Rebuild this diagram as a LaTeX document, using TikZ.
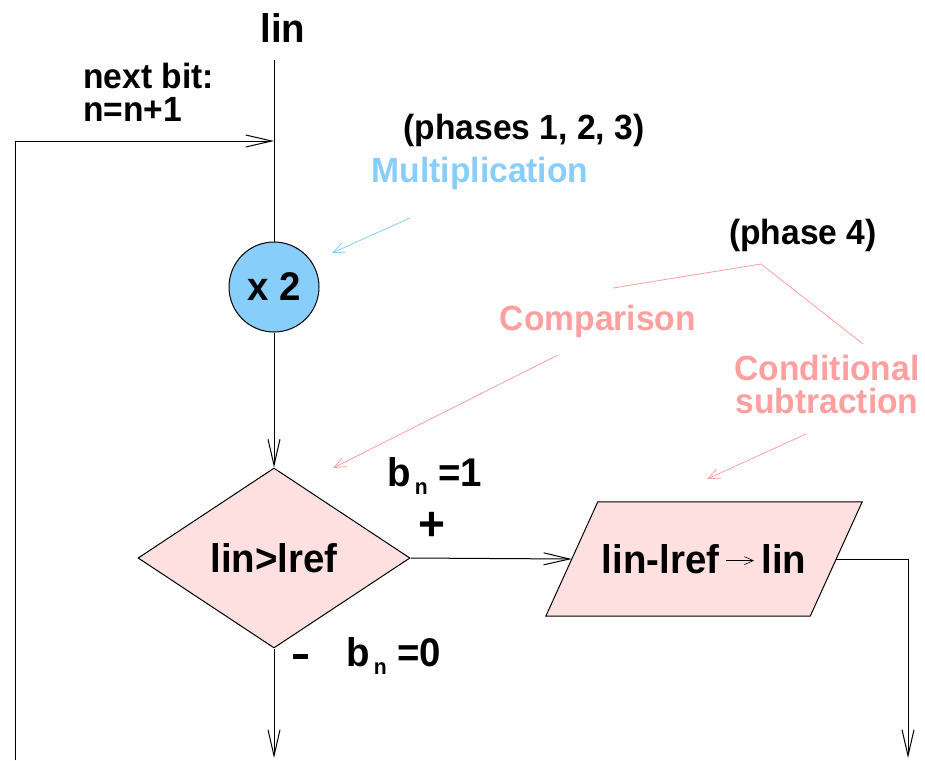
\documentclass[tikz,border=0pt]{standalone}
\usepackage{fontspec}
\usetikzlibrary{arrows.meta,shapes.geometric,backgrounds}
\newfontfamily\figfont{Liberation Sans}[BoldFeatures={FakeStretch=0.96}]
\definecolor{multblue}{HTML}{87CEFA}
\definecolor{phasepink}{HTML}{FFA0A0}
\definecolor{cmpfill}{HTML}{FFE0E0}
\newcommand{\bitlabel}[1]{b\raisebox{-8pt}{\fontsize{22}{22}\selectfont\,n}\ =#1}
\newcommand{\smallarr}{\tikz[baseline=-0.6ex]\draw[line width=0.6pt,-{Straight Barb[length=9pt,width=8pt]}] (0,0) -- (28pt,0);}

\begin{document}
\begin{tikzpicture}[x=1pt,y=-1pt,
  font=\figfont\bfseries,
  wire/.style={line width=1pt},
  flow/.style={line width=1pt, -{Straight Barb[length=26pt,width=12pt]}},
  note/.style={line width=0.8pt, -{Straight Barb[length=12pt,width=10pt]}},
  big/.style={font=\figfont\bfseries\fontsize{40}{44}\selectfont, inner sep=0pt},
  small/.style={font=\figfont\bfseries\fontsize{35}{33}\selectfont, inner sep=0pt, align=center},
  sign/.style={font=\figfont\bfseries\fontsize{48}{48}\selectfont, inner sep=0pt},
  mult/.style={circle, draw, line width=1pt, fill=multblue, minimum size=90pt, inner sep=0pt, big},
  decision/.style={diamond, draw, line width=1pt, fill=cmpfill, minimum width=272pt, minimum height=180pt, inner sep=0pt, big},
  subtr/.style={rectangle, minimum width=264pt, minimum height=114pt, inner sep=0pt, big},
  slantbox/.style={draw, line width=1pt, fill=cmpfill}]
  \useasboundingbox (0,0) rectangle (925,760);

  % main path
  \node[big] (iin) at (283,28) {lin};
  \coordinate (src) at (274,60);
  \node[mult] (x2) at (274,287) {x 2};
  \node[decision] (cmp) at (274,558) {lin>lref};
  \node[subtr] (sub) at (704,559) {lin-lref\,\smallarr\,lin};
  \begin{scope}[on background layer]
    \draw[slantbox] ([xshift=26pt]sub.north west) -- ([xshift=26pt]sub.north east)
      -- ([xshift=-26pt]sub.south east) -- ([xshift=-26pt]sub.south west) -- cycle;
  \end{scope}
  \coordinate (join) at (274,141);
  \coordinate (loopbot) at (15,760);
  \coordinate (outL) at (274,758);
  \coordinate (outR) at (908,758);

  \draw[wire] (src) -- (x2);
  \draw[flow] (loopbot) |- (join);
  \draw[flow] (x2) -- (cmp);
  \draw[flow] (cmp.east) -- (sub.west);
  \draw[flow] (sub.east) -| (outR);
  \draw[flow] (cmp.south) -- (outL);

  % branch labels
  \node[small, anchor=west, align=left] (next) at (83,92) {next bit:\\n=n+1};
  \node[sign] (plus) at (432,526) {+};
  \node[sign] (minus) at (300,656) {\rule{15pt}{5pt}};
  \node[big] (bone) at (435,476) {\bitlabel{1}};
  \node[big] (bzero) at (394,656) {\bitlabel{0}};

  % phase notes
  \node[small] (ph123) at (524,130) {(phases 1, 2, 3)};
  \node[small, text=multblue] (multnote) at (480,173) {Multiplication};
  \node[small] (ph4) at (803,235) {(phase 4)};
  \node[small, text=phasepink] (cmpnote) at (598,321) {Comparison};
  \node[small, text=phasepink] (subnote) at (827,384) {Conditional\\subtraction};

  \coordinate (multtail) at (410,218);
  \coordinate (multtip) at (332,253);
  \coordinate (ph4a) at (613,288);
  \coordinate (ph4b) at (761,264);
  \coordinate (ph4c) at (863,344);
  \coordinate (cmptail) at (558,355);
  \coordinate (cmptip) at (333,468);
  \coordinate (subtail) at (806,434);
  \coordinate (subtip) at (707,479);

  \draw[note, multblue] (multtail) -- (multtip);
  \draw[wire, phasepink, line width=0.8pt] (ph4a) -- (ph4b) -- (ph4c);
  \draw[note, phasepink] (cmptail) -- (cmptip);
  \draw[note, phasepink] (subtail) -- (subtip);
\end{tikzpicture}
\end{document}
